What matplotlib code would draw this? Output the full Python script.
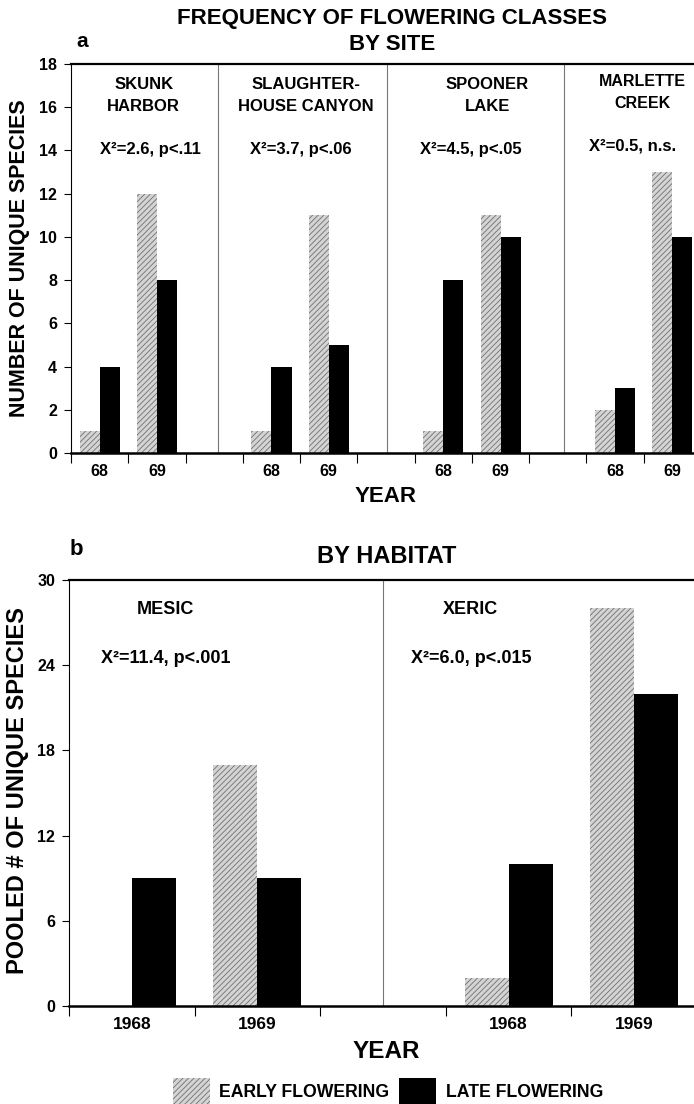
import numpy as np
import matplotlib.pyplot as plt

plt.rcParams['font.family'] = ['Liberation Sans', 'DejaVu Sans']
plt.rcParams['font.weight'] = 'bold'
plt.rcParams['hatch.linewidth'] = 0.6

# panel a: by site
sites = ['SKUNK\nHARBOR', 'SLAUGHTER-\nHOUSE CANYON', 'SPOONER\nLAKE', 'MARLETTE\nCREEK']
site_stats = ['X²=2.6, p<.11', 'X²=3.7, p<.06', 'X²=4.5, p<.05', 'X²=0.5, n.s.']
site_years = ['68', '69']
early_68 = [1, 1, 1, 2]
late_68 = [4, 4, 8, 3]
early_69 = [12, 11, 11, 13]
late_69 = [8, 5, 10, 10]

# panel b: by habitat
habitats = ['MESIC', 'XERIC']
habitat_stats = ['X²=11.4, p<.001', 'X²=6.0, p<.015']
habitat_years = ['1968', '1969']
hab_early_68 = [0, 2]
hab_late_68 = [9, 10]
hab_early_69 = [17, 28]
hab_late_69 = [9, 22]

W, H = 694, 1104
early_style = dict(color='#d4d4d4', edgecolor='#707070', hatch='//////', linewidth=0)
late_style = dict(color='black', linewidth=0)
bw = 0.35


def draw_panel(ax, e68, l68, e69, l69, years, nslots, dividers, xfs, yfs):
    n = len(e68)
    x68 = np.arange(n) * 3 + 0.5
    x69 = x68 + 1
    eb = ax.bar(x68 - bw, e68, bw, align='edge', **early_style, label='EARLY FLOWERING')
    ax.bar(x68, l68, bw, align='edge', **late_style)
    ax.bar(x69 - bw, e69, bw, align='edge', **early_style)
    lb = ax.bar(x69, l69, bw, align='edge', **late_style, label='LATE FLOWERING')
    for d in dividers:
        ax.axvline(d, color='#777777', lw=0.8, zorder=0)
    ax.set_xlim(0, nslots)
    ax.set_xticks(np.arange(nslots + 1))
    ax.set_xticklabels([])
    ax.set_xticks(np.sort(np.concatenate([x68, x69])), minor=True)
    ax.set_xticklabels(years * n, minor=True, fontsize=xfs)
    ax.tick_params(axis='x', which='major', length=7, width=0.8, direction='out')
    ax.tick_params(axis='x', which='minor', length=0, pad=8)
    ax.tick_params(axis='y', length=5, width=0.8, direction='out', pad=5, labelsize=yfs)
    ax.spines['right'].set_visible(False)
    ax.spines['top'].set_linewidth(1.6)
    ax.spines['bottom'].set_linewidth(1.8)
    ax.spines['left'].set_linewidth(0.8)
    return eb, lb


fig = plt.figure(figsize=(W / 100, H / 100), dpi=100)

# ---- panel a
ax_a = fig.add_axes([71 / W, 1 - 453 / H, 630 / W, 389 / H])
draw_panel(ax_a, early_68, late_68, early_69, late_69, site_years, 11,
           [2.57, 5.51, 8.6], 11.5, 11.5)
ax_a.set_ylim(0, 18)
ax_a.set_yticks(np.arange(0, 19, 2))

label_x = [1.27, 4.1, 7.27, 9.98]
label_y = [16.84, 16.84, 16.84, 16.98]
stat_x = [1.38, 4.01, 6.98, 9.8]
stat_y = [13.85, 13.85, 13.85, 14.0]
for i in range(len(sites)):
    fs = 11.5 if i == 3 else 12
    for k, line in enumerate(sites[i].split('\n')):
        ax_a.text(label_x[i], label_y[i] - 1.02 * k, line, ha='center', va='baseline', fontsize=fs)
    ax_a.text(stat_x[i], stat_y[i], site_stats[i], ha='center', va='baseline', fontsize=12)

fig.text(392 / W, 1 - 24 / H, 'FREQUENCY OF FLOWERING CLASSES', ha='center', va='baseline', fontsize=16)
fig.text(392 / W, 1 - 50 / H, 'BY SITE', ha='center', va='baseline', fontsize=16)
fig.text(82 / W, 1 - 47 / H, 'a', ha='center', va='baseline', fontsize=15)
fig.text(386 / W, 1 - 502 / H, 'YEAR', ha='center', va='baseline', fontsize=16)
fig.text(20 / W, 1 - 258 / H, 'NUMBER OF UNIQUE SPECIES', ha='center', va='center',
         rotation=90, fontsize=15.5)

# ---- panel b
ax_b = fig.add_axes([69 / W, 1 - 1006 / H, 628 / W, 426 / H])
eb, lb = draw_panel(ax_b, hab_early_68, hab_late_68, hab_early_69, hab_late_69,
                    habitat_years, 5, [2.5], 12.5, 11.5)
ax_b.set_ylim(0, 30)
ax_b.set_yticks(np.arange(0, 31, 6))

hab_x = [0.77, 3.2]
for i in range(len(habitats)):
    ax_b.text(hab_x[i], 27.64, habitats[i], ha='center', va='baseline', fontsize=13)
    ax_b.text(hab_x[i], 24.12, habitat_stats[i], ha='center', va='baseline', fontsize=13)

fig.text(76 / W, 1 - 555 / H, 'b', ha='center', va='baseline', fontsize=16)
fig.text(387 / W, 1 - 563 / H, 'BY HABITAT', ha='center', va='baseline', fontsize=17)
fig.text(386 / W, 1 - 1058 / H, 'YEAR', ha='center', va='baseline', fontsize=17.5)
fig.text(18 / W, 1 - 791 / H, 'POOLED # OF UNIQUE SPECIES', ha='center', va='center',
         rotation=90, fontsize=17)

fig.legend(handles=[eb, lb], loc='center', bbox_to_anchor=(388 / W, 1 - 1091 / H),
           ncol=2, frameon=False, handlelength=2.1, handleheight=1.9,
           handletextpad=0.55, columnspacing=0.55,
           prop={'weight': 'bold', 'size': 12.7})

fig.savefig('out.png', dpi=100)
